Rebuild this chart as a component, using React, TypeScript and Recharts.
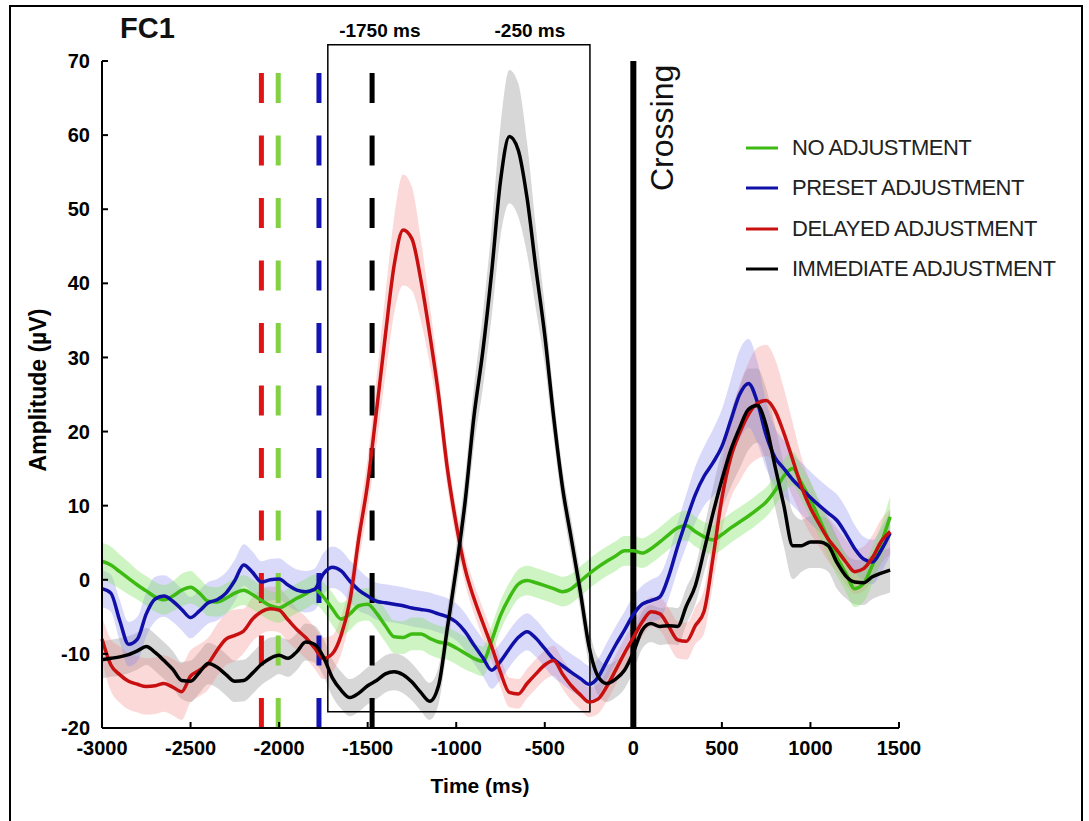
import React from 'react';
import { ComposedChart, Line, Area, XAxis, YAxis, ReferenceLine, ReferenceArea } from 'recharts';

const FONT = '"Liberation Sans", Arial, Helvetica, sans-serif';

// time axis (ms), one sample every 50 ms
const times = [
  -3000, -2950, -2900, -2850, -2800, -2750, -2700, -2650, -2600, -2550,
  -2500, -2450, -2400, -2350, -2300, -2250, -2200, -2150, -2100, -2050,
  -2000, -1950, -1900, -1850, -1800, -1750, -1700, -1650, -1600, -1550,
  -1500, -1450, -1400, -1350, -1300, -1250, -1200, -1150, -1100, -1050,
  -1000, -950, -900, -850, -800, -750, -700, -650, -600, -550,
  -500, -450, -400, -350, -300, -250, -200, -150, -100, -50,
  0, 50, 100, 150, 200, 250, 300, 350, 400, 450,
  500, 550, 600, 650, 700, 750, 800, 850, 900, 950,
  1000, 1050, 1100, 1150, 1200, 1250, 1300, 1350, 1400, 1450,
];

const noAdjustment = [
  2.5, 2.0, 1.1, 0.2, -0.7, -1.5, -2.3, -2.7, -2.2, -1.4,
  -1.0, -1.8, -2.9, -3.0, -2.5, -1.8, -1.4, -2.0, -2.8, -3.5,
  -3.8, -3.2, -2.5, -1.9, -1.3, -2.3, -3.9, -5.3, -4.6, -3.5,
  -3.3, -4.5, -6.2, -7.7, -7.8, -7.3, -7.3, -7.9, -8.4, -8.6,
  -9.2, -9.9, -10.6, -11.0, -8.2, -4.8, -2.4, -0.6, -0.1, -0.4,
  -0.8, -1.2, -1.6, -1.2, -0.2, 0.8, 1.7, 2.5, 3.2, 3.9,
  3.9, 3.6, 4.2, 5.1, 6.1, 7.0, 7.3, 6.5, 5.8, 5.4,
  6.1, 7.0, 7.8, 8.6, 9.5, 10.5, 12.0, 14.0, 15.0, 13.0,
  10.8, 8.2, 5.5, 3.0, 0.9, -1.2, -0.5, 2.0, 5.0, 8.5,
];
const noAdjustmentSe = [
  2.5, 2.5, 2.3, 2.2, 2.0, 2.0, 2.0, 2.0, 2.0, 2.2,
  2.2, 2.0, 2.0, 2.0, 2.0, 2.0, 2.0, 2.0, 2.0, 2.0,
  2.0, 2.0, 2.0, 2.0, 2.0, 2.0, 2.2, 2.2, 2.2, 2.2,
  2.2, 2.2, 2.2, 2.2, 2.2, 2.2, 2.2, 2.2, 2.2, 2.2,
  2.2, 2.2, 2.0, 2.0, 2.0, 2.0, 2.0, 2.0, 2.0, 2.0,
  2.0, 2.0, 2.0, 2.0, 2.0, 2.0, 2.0, 2.0, 2.0, 2.0,
  2.0, 2.0, 2.0, 2.0, 2.0, 2.0, 2.0, 2.0, 2.0, 2.0,
  2.0, 2.0, 2.0, 2.0, 2.0, 2.0, 2.0, 2.2, 2.3, 2.3,
  2.5, 2.5, 2.5, 2.5, 2.5, 2.5, 2.5, 2.5, 2.5, 2.8,
];

const presetAdjustment = [
  -1.2, -1.8, -5.5, -8.7, -8.0, -4.6, -2.6, -2.2, -2.9, -4.0,
  -5.1, -4.2, -3.1, -2.7, -1.8, -0.1, 2.0, 1.0, -0.3, 0.0,
  0.1, -0.7, -1.4, -1.6, -1.3, 0.8, 1.7, 1.2, -0.2, -1.4,
  -2.2, -2.9, -3.1, -3.3, -3.5, -3.8, -4.0, -4.2, -4.6, -5.0,
  -5.7, -7.0, -8.8, -10.5, -12.2, -11.0, -9.3, -7.8, -7.0, -7.9,
  -9.3, -10.7, -11.6, -12.5, -13.3, -14.1, -13.2, -11.0, -8.8, -6.8,
  -4.7, -3.3, -2.8, -2.3, 0.5, 4.5, 8.1, 11.5, 14.0, 15.8,
  18.0, 21.5, 25.0, 26.5, 24.0, 19.5, 16.5, 15.0, 13.5, 12.3,
  11.1, 10.0, 9.0, 8.0, 6.2, 4.2, 2.8, 2.4, 4.0, 6.3,
];
const presetAdjustmentSe = [
  2.5, 2.5, 2.8, 3.0, 3.0, 3.0, 3.0, 2.8, 2.8, 2.8,
  2.8, 2.8, 2.8, 2.8, 2.8, 2.8, 2.8, 2.8, 2.8, 2.8,
  2.8, 2.8, 2.8, 2.8, 2.8, 2.8, 2.8, 2.8, 2.8, 2.8,
  2.5, 2.5, 2.5, 2.5, 2.5, 2.5, 2.5, 2.5, 2.5, 2.5,
  2.5, 2.5, 2.5, 2.5, 2.5, 2.5, 2.5, 2.5, 2.5, 2.5,
  2.5, 2.5, 2.5, 2.5, 2.5, 2.5, 2.5, 2.5, 2.5, 2.5,
  2.5, 2.5, 2.8, 3.0, 3.0, 3.2, 3.5, 3.8, 4.0, 4.5,
  5.0, 5.5, 6.0, 6.0, 5.5, 4.5, 4.0, 3.8, 3.5, 3.5,
  3.5, 3.5, 3.5, 3.5, 3.5, 3.2, 3.0, 3.0, 3.0, 3.0,
];

const delayedAdjustment = [
  -8.0, -11.5, -12.8, -13.7, -14.1, -14.4, -14.3, -14.0, -14.5, -15.1,
  -13.0, -12.2, -11.3, -9.5, -8.0, -7.5, -6.9, -5.3, -4.3, -3.9,
  -4.1, -5.4, -6.7, -7.8, -9.2, -10.6, -10.0, -7.5, -2.8, 5.6,
  13.0, 22.8, 33.0, 42.5, 47.2, 46.0, 40.5, 33.2, 25.0, 15.0,
  7.5, 1.5, -2.5, -5.8, -9.0, -12.5, -15.2, -15.4, -14.0, -12.7,
  -11.5, -10.9, -12.7, -14.3, -15.5, -16.5, -16.1, -14.4, -12.2, -9.9,
  -7.8, -5.7, -4.3, -4.6, -6.3, -8.1, -8.3, -6.2, -4.2, 3.0,
  11.0, 16.5, 19.8, 22.3, 23.8, 24.2, 22.8, 19.8, 16.2, 12.5,
  9.7, 7.5, 5.5, 4.0, 2.4, 1.1, 1.5, 3.0, 5.2, 6.5,
];
const delayedAdjustmentSe = [
  3.0, 3.5, 3.8, 3.8, 3.8, 3.8, 3.8, 3.8, 3.8, 3.8,
  3.5, 3.5, 3.5, 3.5, 3.5, 3.5, 3.0, 3.0, 3.0, 3.0,
  3.0, 3.0, 2.8, 2.8, 2.8, 2.8, 2.5, 2.5, 2.5, 3.0,
  3.5, 4.5, 5.5, 6.5, 7.5, 7.0, 5.5, 4.0, 3.0, 2.5,
  2.2, 2.0, 2.0, 2.0, 2.0, 2.0, 2.0, 2.0, 2.0, 2.0,
  2.0, 2.0, 2.0, 2.0, 2.0, 2.0, 2.0, 2.0, 2.0, 2.0,
  2.0, 2.0, 2.0, 2.2, 2.5, 2.5, 2.5, 2.5, 3.0, 3.5,
  4.5, 5.5, 6.5, 7.0, 7.5, 7.5, 7.0, 6.0, 5.0, 4.0,
  3.5, 3.0, 3.0, 3.0, 3.0, 3.0, 3.0, 3.0, 3.0, 3.0,
];

const immediateAdjustment = [
  -10.8, -10.6, -10.4, -10.1, -9.6, -9.0, -9.8, -10.9, -12.1, -13.6,
  -13.7, -12.5, -11.3, -11.8, -12.8, -13.7, -13.6, -12.6, -11.4, -10.6,
  -10.2, -10.6, -9.7, -8.4, -8.7, -10.4, -13.2, -14.9, -15.9, -15.3,
  -14.3, -13.6, -12.7, -12.4, -12.8, -13.8, -15.2, -16.4, -14.3, -6.5,
  1.5, 10.5, 22.0, 30.8, 41.5, 53.8, 59.8, 58.0, 51.5, 42.0,
  33.0, 22.0, 12.5, 5.5, -1.5, -9.0, -13.0, -14.0, -13.4, -12.2,
  -9.8, -6.8, -5.9, -6.3, -6.2, -6.3, -3.5, -0.8, 4.0, 9.0,
  13.5, 17.5, 20.5, 23.0, 23.5, 20.8, 15.3, 10.0, 4.6, 4.6,
  5.1, 5.1, 4.6, 2.3, 0.5, -0.3, -0.4, 0.4, 0.9, 1.3,
];
const immediateAdjustmentSe = [
  2.5, 2.5, 2.5, 2.5, 2.5, 2.5, 2.5, 2.5, 2.5, 2.5,
  2.8, 2.8, 2.8, 2.8, 2.8, 2.8, 2.8, 2.8, 2.8, 2.8,
  2.5, 2.5, 2.5, 2.5, 2.5, 2.5, 2.5, 2.5, 2.5, 2.5,
  2.5, 2.5, 2.5, 2.5, 2.5, 2.5, 2.5, 2.5, 2.5, 2.5,
  3.0, 3.5, 4.0, 5.0, 6.0, 7.5, 9.0, 9.0, 7.5, 5.5,
  4.0, 3.0, 2.5, 2.5, 2.5, 2.5, 2.5, 2.5, 2.5, 2.5,
  2.5, 2.5, 2.5, 2.5, 2.5, 2.5, 2.5, 2.5, 3.0, 3.5,
  4.0, 5.0, 5.5, 5.5, 5.0, 5.0, 5.5, 5.5, 4.5, 3.5,
  3.5, 3.5, 3.5, 3.5, 3.0, 3.0, 3.0, 3.0, 3.0, 3.0,
];

const xTicks = [-3000, -2500, -2000, -1500, -1000, -500, 0, 500, 1000, 1500];
const yTicks = [-20, -10, 0, 10, 20, 30, 40, 50, 60, 70];

// onset markers (ms) drawn as dashed verticals
const onsets = [
  { t: -2100, color: '#e01414' },
  { t: -2005, color: '#84d044' },
  { t: -1775, color: '#1414b4' },
  { t: -1475, color: '#000000' },
];

const series = [
  { key: 'noAdj', name: 'NO ADJUSTMENT', values: noAdjustment, se: noAdjustmentSe, color: '#3dbb12', band: 'rgba(130,225,100,0.38)' },
  { key: 'preset', name: 'PRESET ADJUSTMENT', values: presetAdjustment, se: presetAdjustmentSe, color: '#1010a8', band: 'rgba(130,130,235,0.30)' },
  { key: 'delayed', name: 'DELAYED ADJUSTMENT', values: delayedAdjustment, se: delayedAdjustmentSe, color: '#c81010', band: 'rgba(245,130,130,0.30)' },
  { key: 'immediate', name: 'IMMEDIATE ADJUSTMENT', values: immediateAdjustment, se: immediateAdjustmentSe, color: '#000000', band: 'rgba(130,130,130,0.32)' },
];

const rows = times.map((t, i) => {
  const row: any = { t };
  series.forEach((s) => {
    row[s.key] = s.values[i];
    row[s.key + 'Band'] = [s.values[i] - s.se[i], s.values[i] + s.se[i]];
  });
  return row;
});

const tickStyle = { fill: '#000', fontSize: 20, fontWeight: 'bold' as const, fontFamily: FONT };

const windowLabel = (props: any) => {
  const { x, y, width } = props.viewBox;
  return (
    <g fontFamily={FONT} fontSize={19} fontWeight="bold" fill="#000">
      <text x={x + 52} y={y - 8} textAnchor="middle">-1750 ms</text>
      <text x={x + width - 60} y={y - 8} textAnchor="middle">-250 ms</text>
    </g>
  );
};

const crossingLabel = (props: any) => {
  const { x, y } = props.viewBox;
  const lx = x + 40;
  const ly = y + 130;
  return (
    <text x={lx} y={ly} transform={`rotate(-90, ${lx}, ${ly})`} fontFamily={FONT} fontSize={32} fill="#111">
      Crossing
    </text>
  );
};

export default function App() {
  return (
    <div style={{ position: 'fixed', left: 0, top: 0, width: 1089, height: 821, background: '#fff', overflow: 'hidden' }}>
      <div style={{ position: 'absolute', left: 9, top: 5, width: 1070, height: 840, border: '2px solid #000' }} />
      <ComposedChart
        width={1089}
        height={821}
        data={rows}
        margin={{ top: 61, right: 190, bottom: 53, left: 42 }}
        style={{ position: 'absolute', left: 0, top: 0 }}
      >
        <XAxis
          dataKey="t"
          type="number"
          domain={[-3000, 1500]}
          ticks={xTicks}
          interval={0}
          height={40}
          tickSize={-6}
          tickMargin={19}
          axisLine={{ stroke: '#000', strokeWidth: 2 }}
          tickLine={{ stroke: '#000', strokeWidth: 2 }}
          tick={tickStyle}
        />
        <YAxis
          type="number"
          domain={[-20, 70]}
          ticks={yTicks}
          interval={0}
          width={60}
          tickSize={-6}
          tickMargin={18}
          axisLine={{ stroke: '#000', strokeWidth: 2 }}
          tickLine={{ stroke: '#000', strokeWidth: 2 }}
          tick={tickStyle}
        />
        {[...series].reverse().map((s) => (
          <Area
            key={s.key + 'Band'}
            dataKey={s.key + 'Band'}
            type="monotone"
            stroke="none"
            fill={s.band}
            fillOpacity={1}
            isAnimationActive={false}
            activeDot={false}
          />
        ))}
        {onsets.map((o) => (
          <ReferenceLine key={o.t} x={o.t} stroke={o.color} strokeWidth={5} strokeDasharray="30 32.5" />
        ))}
        <ReferenceArea
          x1={-1725}
          x2={-245}
          y1={-17.8}
          y2={72.2}
          ifOverflow="visible"
          fill="none"
          fillOpacity={0}
          stroke="#000"
          strokeWidth={1.5}
          label={windowLabel}
        />
        <ReferenceLine x={0} stroke="#000" strokeWidth={6} label={crossingLabel} />
        {series.map((s) => (
          <Line
            key={s.key}
            dataKey={s.key}
            type="monotone"
            stroke={s.color}
            strokeWidth={3.5}
            dot={false}
            activeDot={false}
            isAnimationActive={false}
          />
        ))}
      </ComposedChart>

      <div style={{ position: 'absolute', left: 120, top: 12, fontFamily: FONT, fontSize: 29, fontWeight: 'bold', color: '#111' }}>
        FC1
      </div>
      <div
        style={{
          position: 'absolute', left: 38, top: 390, transform: 'translate(-50%, -50%) rotate(-90deg)',
          fontFamily: FONT, fontSize: 23, fontWeight: 'bold', color: '#000', whiteSpace: 'nowrap',
        }}
      >
        Amplitude (µV)
      </div>
      <div
        style={{
          position: 'absolute', left: 480, top: 786, transform: 'translate(-50%, -50%)',
          fontFamily: FONT, fontSize: 21, fontWeight: 'bold', color: '#000', whiteSpace: 'nowrap',
        }}
      >
        Time (ms)
      </div>

      <div style={{ position: 'absolute', left: 746, top: 128, fontFamily: FONT }}>
        {series.map((s) => (
          <div key={s.key} style={{ display: 'flex', alignItems: 'center', height: 40.3 }}>
            <svg width={32} height={4} style={{ display: 'block' }}>
              <line x1={0} y1={2} x2={32} y2={2} stroke={s.color} strokeWidth={3} />
            </svg>
            <span style={{ marginLeft: 14, fontSize: 22, letterSpacing: -0.5, color: '#222', whiteSpace: 'nowrap' }}>
              {s.name}
            </span>
          </div>
        ))}
      </div>
    </div>
  );
}
